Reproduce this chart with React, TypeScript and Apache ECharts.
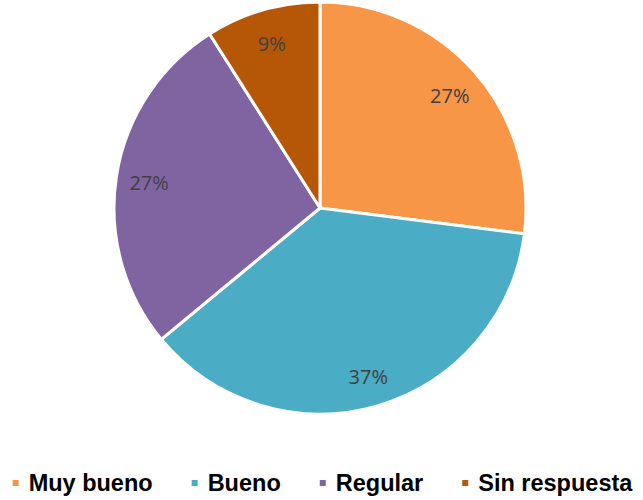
import React, { useEffect, useRef } from "react";
import * as echarts from "echarts";

const categories = ["Muy bueno", "Bueno", "Regular", "Sin respuesta"];
const values = [27, 37, 27, 9];
const colors = ["#F79646", "#4BACC6", "#8064A2", "#B65708"];

export default function App() {
  const ref = useRef<HTMLDivElement>(null);
  useEffect(() => {
    if (!ref.current) return;
    const chart = echarts.init(ref.current, null, { renderer: "svg" });
    const data = categories.map((name, i) => ({
      name,
      value: values[i],
      itemStyle: { color: colors[i] },
    }));
    chart.setOption({
      animation: false,
      legend: {
        left: "center",
        top: 466,
        icon: "rect",
        itemWidth: 8,
        itemHeight: 8,
        itemGap: 37,
        data: categories.map((name, i) => ({ name, itemStyle: { color: colors[i] } })),
        textStyle: {
          fontFamily: "Liberation Sans, Arial, sans-serif",
          fontWeight: "bold",
          fontSize: 23.5,
          color: "#000",
          padding: [0, 0, 0, 4],
        },
        selectedMode: false,
      },
      series: [
        {
          type: "pie",
          center: [320, 208],
          radius: [0, 206],
          startAngle: 90,
          clockwise: true,
          silent: true,
          data,
          itemStyle: { borderColor: "#fff", borderWidth: 3 },
          label: { show: false },
          labelLine: { show: false },
        },
        {
          type: "pie",
          center: [320, 210],
          radius: [136, 204],
          startAngle: 90,
          clockwise: true,
          silent: true,
          data: categories.map((name, i) => ({
            name,
            value: values[i],
            itemStyle: { color: "rgba(0,0,0,0)" },
          })),
          label: {
            show: true,
            position: "inside",
            formatter: (p: any) => p.value + "%",
            fontFamily: "Open Sans, sans-serif",
            fontSize: 20,
            color: "#404040",
          },
          labelLine: { show: false },
        },
      ],
    });
    return () => chart.dispose();
  }, []);
  return (
    <div
      ref={ref}
      style={{ position: "fixed", left: 0, top: 0, width: 643, height: 500, background: "#fff" }}
    />
  );
}
